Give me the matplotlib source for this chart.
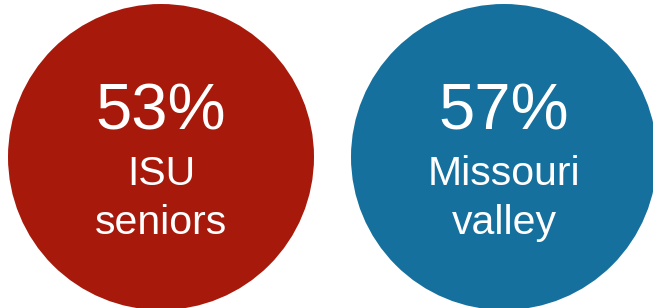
import matplotlib
matplotlib.use("Agg")
import matplotlib.pyplot as plt
from matplotlib.patches import Circle

percent = [53, 57]
labels = [["ISU", "seniors"], ["Missouri", "valley"]]
colors = ["#A71A0B", "#15709E"]

plt.rcParams["font.family"] = ["Liberation Sans", "DejaVu Sans"]

fig = plt.figure(figsize=(6.53, 3.08), dpi=100)
ax = fig.add_axes([0, 0, 1, 1])
ax.set_xlim(0, 653)
ax.set_ylim(308, 0)
ax.set_aspect("equal")
ax.axis("off")

x0, dx, cy, r = 161, 343, 157, 153
for i, (p, lab, c) in enumerate(zip(percent, labels, colors)):
    cx = x0 + i * dx
    ax.add_patch(Circle((cx, cy), r, color=c, lw=0))
    ax.text(cx, 130, f"{p}%", color="white", fontsize=47,
            ha="center", va="baseline")
    ax.text(cx, 185, lab[0], color="white", fontsize=29.5,
            ha="center", va="baseline")
    ax.text(cx, 234, lab[1], color="white", fontsize=29.5,
            ha="center", va="baseline")

fig.savefig("out.png", dpi=100)
